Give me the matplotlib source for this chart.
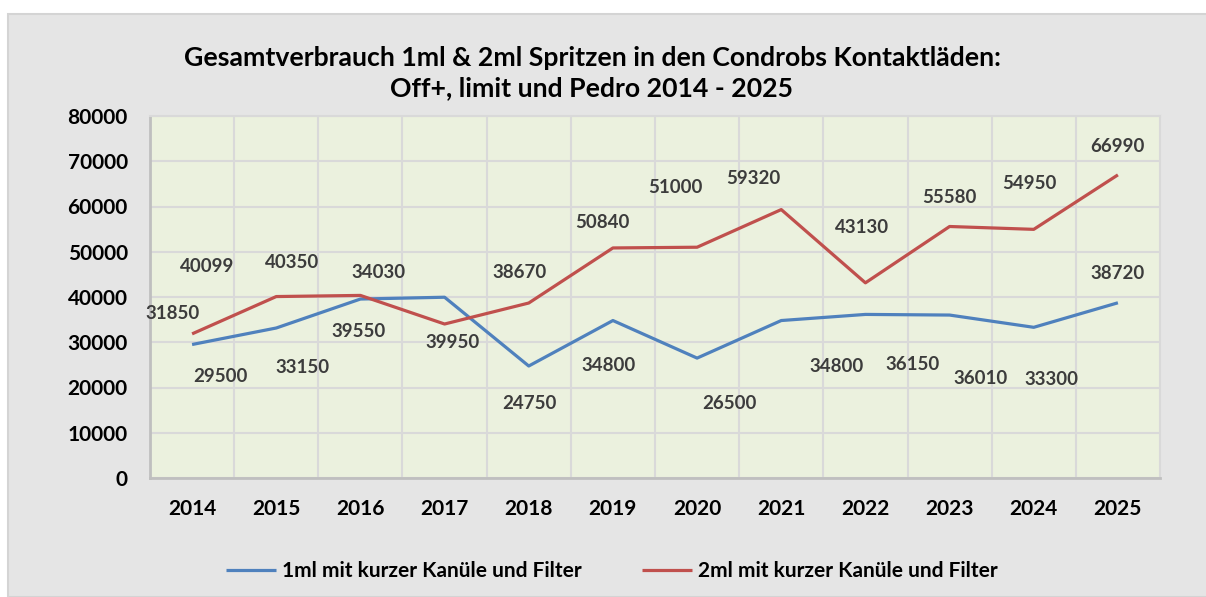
import matplotlib
matplotlib.use("Agg")
import matplotlib.pyplot as plt
from matplotlib.patches import Rectangle

years = ["2014", "2015", "2016", "2017", "2018", "2019", "2020", "2021", "2022", "2023", "2024", "2025"]
ml1 = [29500, 33150, 39550, 39950, 24750, 34800, 26500, 34800, 36150, 36010, 33300, 38720]
ml2 = [31850, 40099, 40350, 34030, 38670, 50840, 51000, 59320, 43130, 55580, 54950, 66990]
name1 = "1ml mit kurzer Kanüle und Filter"
name2 = "2ml mit kurzer Kanüle und Filter"
title = "Gesamtverbrauch 1ml & 2ml Spritzen in den Condrobs Kontaktläden:\nOff+, limit und Pedro 2014 - 2025"
yticks = [0, 10000, 20000, 30000, 40000, 50000, 60000, 70000, 80000]

# label offsets (pixels) relative to each point, as placed in the original chart
off1 = [(28, -32), (26, -40), (-2, -32), (8, -45), (1, -37), (-4, -45),
        (32, -45), (55, -46), (47, -50), (31, -63), (18, -52), (0, 29)]
off2 = [(-20, 20), (-69, 30), (-68, 33), (-66, 52), (-9, 31), (-11, 25),
        (-22, 60), (-28, 31), (-3, 55), (0, 29), (-4, 46), (0, 28)]

FONT = "Lato"
W, H = 1206, 597
fig = plt.figure(figsize=(W / 100, H / 100), dpi=100)
fig.patch.set_facecolor("white")
bg = Rectangle((8 / W, 0), 1.2, (H - 14) / H, transform=fig.transFigure,
               facecolor="#E5E5E5", edgecolor="#D4D4D4", linewidth=1.5, zorder=-10)
fig.patches.append(bg)

ax = fig.add_axes([150 / W, 1 - 478 / H, 1010 / W, 362 / H])
ax.set_zorder(5)
ax.set_facecolor("#EBF1DE")
x = list(range(len(years)))
ax.plot(x, ml1, color="#4F81BD", lw=2.3, label=name1, solid_capstyle="butt", zorder=3)
ax.plot(x, ml2, color="#C0504D", lw=2.3, label=name2, solid_capstyle="butt", zorder=3)

for xi, v, (dx, dy) in zip(x, ml1, off1):
    ax.annotate(str(v), (xi, v), xytext=(dx, dy), textcoords="offset pixels",
                ha="center", va="center", fontsize=13.5, fontweight="bold",
                color="#3C3C3C", family=FONT, zorder=4)
for xi, v, (dx, dy) in zip(x, ml2, off2):
    ax.annotate(str(v), (xi, v), xytext=(dx, dy), textcoords="offset pixels",
                ha="center", va="center", fontsize=13.5, fontweight="bold",
                color="#3C3C3C", family=FONT, zorder=4)

ax.set_xlim(-0.5, len(years) - 0.5)
ax.set_ylim(0, 80000)
ax.set_yticks(yticks)
ax.set_yticklabels([str(t) for t in yticks])
ax.set_xticks(x)
ax.set_xticklabels(years)
ax.set_xticks([i + 0.5 for i in x[:-1]], minor=True)
ax.grid(True, which="major", axis="y", color="#D9D9D9", lw=1.5, zorder=1)
ax.grid(True, which="minor", axis="x", color="#D9D9D9", lw=1.5, zorder=1)
ax.tick_params(which="both", length=0)
ax.tick_params(axis="y", pad=16)
ax.tick_params(axis="x", pad=15)
for lab in ax.get_xticklabels() + ax.get_yticklabels():
    lab.set_fontfamily(FONT)
    lab.set_fontweight("bold")
    lab.set_fontsize(15)
    lab.set_color("black")
for s in ["left", "bottom"]:
    ax.spines[s].set_color("#BFBFBF")
    ax.spines[s].set_linewidth(2)
for s in ["top", "right"]:
    ax.spines[s].set_color("#D9D9D9")
    ax.spines[s].set_linewidth(1.5)

fig.text(592 / W, 1 - 73 / H, title, ha="center", va="center", fontsize=19.2,
         fontweight="bold", family=FONT, linespacing=1.3)

leg = fig.legend(loc="center", bbox_to_anchor=(612 / W, 1 - 571 / H), ncol=2,
                 frameon=False, prop={"family": FONT, "weight": "bold", "size": 15},
                 handlelength=2.4, handletextpad=0.3, columnspacing=2.9)

fig.savefig("out.png", dpi=100, facecolor=fig.get_facecolor())
